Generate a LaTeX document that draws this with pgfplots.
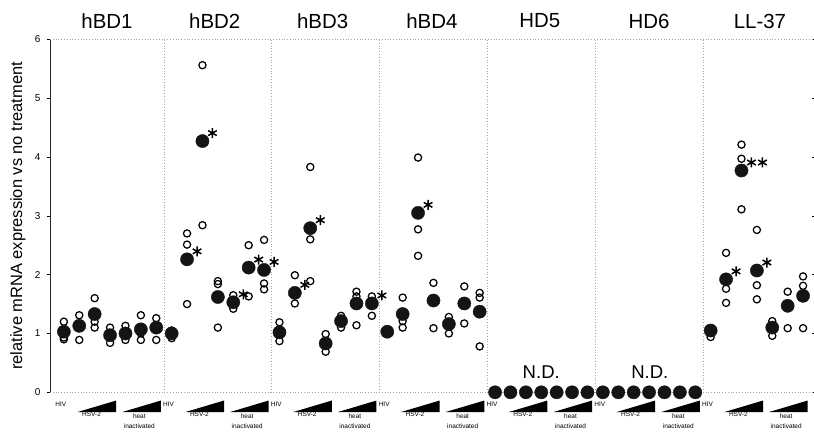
\documentclass[border=0pt]{standalone}
\usepackage{fontspec}
\setmainfont{Liberation Sans}
\usepackage{pgfplots}
\pgfplotsset{compat=1.18}
\begin{document}
\begin{tikzpicture}
\begin{axis}[
 scale only axis, width=762.3bp, height=353bp,
 xmin=-0.9, xmax=48.6, ymin=0, ymax=6,
 axis line style={draw=none},
 xtick=\empty,
 ytick={0,1,2,3,4,5,6},
 tick align=outside, major tick length=3bp,
 y tick style={black, line width=0.6pt},
 yticklabel style={font=\fontsize{10}{12}\selectfont, xshift=-3bp},
 /pgf/number format/assume math mode=true,
 ylabel={relative mRNA expression vs no treatment},
 every axis y label/.style={at={(axis description cs:-0.042,0.5)}, rotate=90, anchor=center, font=\fontsize{16.5}{18}\selectfont},
 clip=false,
]
% frame pieces
\draw[black!85, line width=0.9pt] (axis cs:-0.9,0) -- (axis cs:-0.9,6);
\draw[gray!70, dotted, line width=0.8pt] (axis cs:-0.9,6) -- (axis cs:48.6,6);
\draw[gray!70, dotted, line width=0.8pt] (axis cs:-0.9,0) -- (axis cs:48.6,0);
\pgfplotsinvokeforeach{6.5,13.5,20.5,27.5,34.5,41.5}{
  \draw[gray!70, dotted, line width=0.8pt] (axis cs:#1,0) -- (axis cs:#1,6);
}
% panel titles
\node[font=\fontsize{20.5}{22}\selectfont] at (axis cs:2.8,6.31) {hBD1};
\node[font=\fontsize{20.5}{22}\selectfont] at (axis cs:9.8,6.31) {hBD2};
\node[font=\fontsize{20.5}{22}\selectfont] at (axis cs:16.8,6.31) {hBD3};
\node[font=\fontsize{20.5}{22}\selectfont] at (axis cs:23.9,6.31) {hBD4};
\node[font=\fontsize{20.5}{22}\selectfont] at (axis cs:30.9,6.31) {HD5};
\node[font=\fontsize{20.5}{22}\selectfont] at (axis cs:38.0,6.31) {HD6};
\node[font=\fontsize{20.5}{22}\selectfont] at (axis cs:45.2,6.31) {LL-37};
% N.D.
\node[font=\fontsize{18.6}{20}\selectfont] at (axis cs:31.0,0.35) {N.D.};
\node[font=\fontsize{18.6}{20}\selectfont] at (axis cs:38.05,0.35) {N.D.};
% treatment wedges and labels
\pgfplotsinvokeforeach{0,7,14,21,28,35,42}{
  \fill[black] (axis cs:#1+0.9,-0.335) -- (axis cs:#1+3.4,-0.335) -- (axis cs:#1+3.4,-0.14) -- cycle;
  \fill[black] (axis cs:#1+3.8,-0.335) -- (axis cs:#1+6.3,-0.335) -- (axis cs:#1+6.3,-0.14) -- cycle;
  \node[font=\fontsize{6.5}{7}\selectfont] at (axis cs:#1-0.2,-0.2) {HIV};
  \node[font=\fontsize{6.5}{7}\selectfont] at (axis cs:#1+1.8,-0.38) {HSV-2};
  \node[font=\fontsize{6.5}{7}\selectfont] at (axis cs:#1+4.9,-0.40) {heat};
  \node[font=\fontsize{6.5}{7}\selectfont] at (axis cs:#1+4.9,-0.58) {inactivated};
}
% individual donors (open circles)
\addplot[only marks, mark=o, mark size=3.6bp, mark options={line width=1.25pt, draw=black, fill=white}] coordinates {
(0,1.20) (0,0.90) (0,0.93)
(1,1.31) (1,0.89)
(2,1.60) (2,1.20) (2,1.10)
(3,1.10) (3,0.84)
(4,1.13) (4,0.89)
(5,1.31) (5,1.00) (5,0.89)
(6,1.26) (6,0.89)
(7,1.05) (7,0.92)
(8,2.70) (8,2.51) (8,1.50)
(9,5.56) (9,2.84)
(10,1.89) (10,1.84) (10,1.10)
(11,1.65) (11,1.42)
(12,2.50) (12,1.63)
(13,2.59) (13,1.85) (13,1.75)
(14,1.19) (14,0.87)
(15,1.99) (15,1.51)
(16,3.83) (16,2.60) (16,1.89)
(17,0.99) (17,0.69)
(18,1.30) (18,1.10)
(19,1.71) (19,1.63) (19,1.14)
(20,1.63) (20,1.30)
(22,1.61) (22,1.21) (22,1.10)
(23,3.99) (23,2.77) (23,2.32)
(24,1.86) (24,1.09)
(25,1.28) (25,1.00)
(26,1.80) (26,1.17)
(27,1.69) (27,1.61) (27,0.78)
(42,0.94)
(43,2.37) (43,1.76) (43,1.52)
(44,4.21) (44,3.97) (44,3.11)
(45,2.76) (45,1.82) (45,1.58)
(46,1.21) (46,0.96)
(47,1.71) (47,1.09)
(48,1.97) (48,1.81) (48,1.09)
};
% means (filled circles)
\addplot[only marks, mark=*, mark size=6.6bp, mark options={fill=black!92, draw=black!92}] coordinates {
(0,1.03) (1,1.13) (2,1.33) (3,0.97) (4,1.00) (5,1.07) (6,1.10)
(7,1.00) (8,2.26) (9,4.27) (10,1.62) (11,1.53) (12,2.12) (13,2.08)
(14,1.02) (15,1.69) (16,2.79) (17,0.83) (18,1.21) (19,1.51) (20,1.51)
(21,1.03) (22,1.33) (23,3.05) (24,1.56) (25,1.16) (26,1.51) (27,1.37)
(28,0) (29,0) (30,0) (31,0) (32,0) (33,0) (34,0)
(35,0) (36,0) (37,0) (38,0) (39,0) (40,0) (41,0)
(42,1.05) (43,1.92) (44,3.77) (45,2.07) (46,1.10) (47,1.47) (48,1.64)
};
% significance stars
\addplot[only marks, mark=asterisk, mark size=5bp, mark options={line width=1.5pt, xshift=10bp, yshift=8bp}] coordinates {
(8,2.26) (9,4.27) (11,1.53) (12,2.12) (13,2.08) (15,1.69) (16,2.79) (20,1.51) (23,3.05) (43,1.92) (44,3.77) (45,2.07)
};
\addplot[only marks, mark=asterisk, mark size=5bp, mark options={line width=1.5pt, xshift=21bp, yshift=8bp}] coordinates {
(44,3.77)
};
\end{axis}
\pgfresetboundingbox
\path[use as bounding box] (-50bp,-42.7bp) rectangle (764bp,392.3bp);
\end{tikzpicture}
\end{document}
